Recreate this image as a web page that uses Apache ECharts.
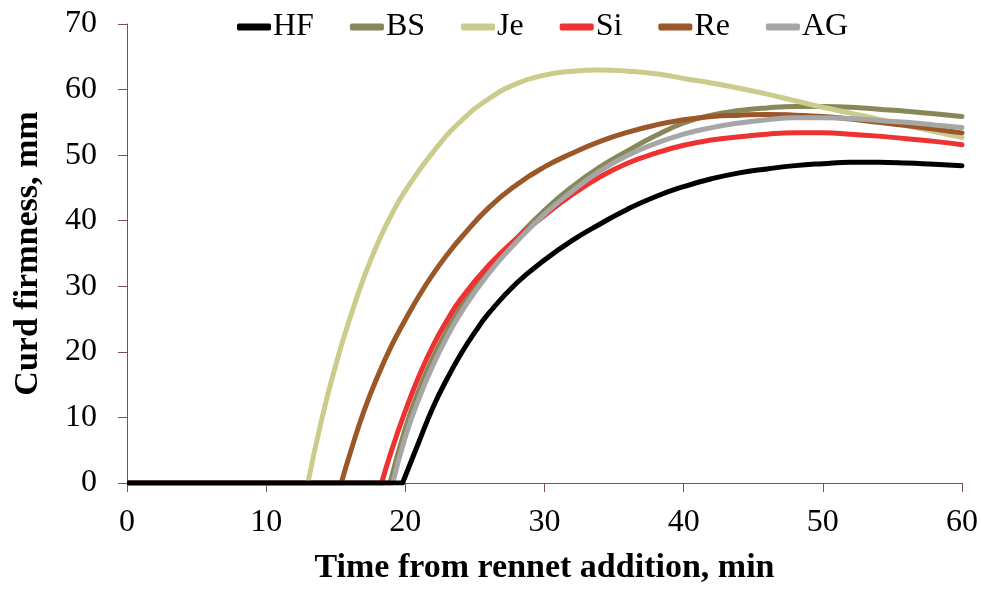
<!DOCTYPE html>
<html><head><meta charset="utf-8">
<script src="https://cdn.jsdelivr.net/npm/echarts@6/dist/echarts.min.js"></script>
<style>html,body{margin:0;padding:0;background:#fff}#c{width:981px;height:592px}</style>
</head><body><div id="c"></div>
<script>
// Data: [time (min), curd firmness (mm)]
const seriesNames = ['HF', 'BS', 'Je', 'Si', 'Re', 'AG'];
const xTicks = [0, 10, 20, 30, 40, 50, 60];
const yTicks = [0, 10, 20, 30, 40, 50, 60, 70];
// Coagulation start time (flat at 0 before)
const startTimes = { HF: 19.8, BS: 18.9, Je: 13.0, Si: 18.3, Re: 15.4, AG: 19.1 };

const hfData = [[19.8,0],[21,6.4],[22,11.6],[23,15.9],[24,19.7],[25,23],[26,25.9],[28,30.5],[30,34],[32,37],[34,39.5],[36,41.8],[38,43.7],[40,45.2],[42,46.4],[44,47.3],[46,47.9],[48,48.4],[50,48.7],[52,48.9],[54,48.9],[56,48.8],[58,48.6],[60,48.4]];
const bsData = [[18.9,0],[20,8.3],[21,14.3],[22,19.2],[23,23.3],[24,26.9],[26,32.6],[28,37.3],[30,41.6],[32,45.2],[34,48.2],[36,50.7],[38,53],[40,54.9],[42,56.1],[44,56.8],[46,57.2],[48,57.4],[50,57.4],[52,57.3],[54,57],[56,56.7],[58,56.3],[60,55.9]];
const jeData = [[13,0],[14,9.8],[15,18],[16,25],[17,31.2],[18,36.5],[19,40.9],[20,44.6],[22,50.5],[24,55.2],[26,58.6],[28,60.9],[30,62.2],[32,62.8],[34,63],[36,62.8],[38,62.4],[40,61.7],[42,61],[44,60.2],[46,59.3],[48,58.3],[50,57.3],[52,56.4],[54,55.5],[56,54.5],[58,53.6],[60,52.7]];
const siData = [[18.3,0],[19,4.9],[20,11],[21,16.4],[22,21],[23,24.8],[24,28.1],[26,33.2],[28,37.3],[30,40.8],[32,44],[34,46.7],[36,48.8],[38,50.3],[40,51.5],[42,52.3],[44,52.8],[46,53.2],[48,53.4],[50,53.4],[52,53.2],[54,52.9],[56,52.5],[58,52.1],[60,51.6]];
const reData = [[15.4,0],[16,4.3],[17,10.8],[18,16.2],[19,20.9],[20,24.9],[21,28.6],[22,31.9],[23,34.8],[24,37.4],[26,42],[28,45.5],[30,48.2],[32,50.3],[34,52.1],[36,53.5],[38,54.6],[40,55.4],[42,55.9],[44,56.1],[46,56.2],[48,56.1],[50,55.9],[52,55.5],[54,55],[56,54.5],[58,54],[60,53.4]];
const agData = [[19.1,0],[20,7],[21,13],[22,18],[23,22.3],[24,26],[26,32],[28,36.8],[30,41],[32,44.5],[34,47.6],[36,50],[38,51.8],[40,53.2],[42,54.2],[44,54.9],[46,55.4],[48,55.7],[50,55.7],[52,55.6],[54,55.3],[56,55],[58,54.6],[60,54.2]];

const curveData = { HF: hfData, BS: bsData, Je: jeData, Si: siData, Re: reData, AG: agData };
const colors = { HF: '#000000', BS: '#87875a', Je: '#cbcb8c', Si: '#ee3131', Re: '#9b5727', AG: '#a6a6a6' };

const FONT = 'Liberation Serif';
const series = [];
seriesNames.forEach(function (n, i) {
  series.push({
    name: n, type: 'line', smooth: false, symbol: 'none', silent: true,
    z: n === 'HF' ? 10 : 2,
    lineStyle: { width: 5, color: colors[n] }, itemStyle: { color: colors[n] },
    data: [[0, 0], [startTimes[n], 0]]
  });
  series.push({
    name: n, type: 'line', smooth: 0.5, symbol: 'none', silent: true,
    z: 3 + i * 0.1,
    lineStyle: { width: 5, color: colors[n], cap: 'round' }, itemStyle: { color: colors[n] },
    data: curveData[n]
  });
});

const axisColor = '#7a5252';
const chart = echarts.init(document.getElementById('c'), null, { renderer: 'canvas' });
chart.setOption({
  animation: false,
  backgroundColor: '#ffffff',
  legend: {
    data: seriesNames, left: 232, top: 6, itemGap: 36, itemWidth: 34, itemHeight: 7,
    icon: 'roundRect',
    textStyle: { fontFamily: FONT, fontSize: 32, color: '#000', padding: [0, 0, 0, -3] }
  },
  grid: { left: 127, right: 17, top: 24, bottom: 109, containLabel: false },
  xAxis: {
    type: 'value', min: xTicks[0], max: xTicks[xTicks.length - 1], interval: 10,
    name: 'Time from rennet addition, min', nameLocation: 'middle', nameGap: 68,
    nameTextStyle: { fontFamily: FONT, fontSize: 34, fontWeight: 'bold', color: '#000' },
    axisLine: { show: true, lineStyle: { color: axisColor, width: 1 } },
    axisTick: { show: true, inside: false, length: 9, lineStyle: { color: axisColor } },
    axisLabel: { fontFamily: FONT, fontSize: 32, color: '#000', margin: 24 },
    splitLine: { show: false }
  },
  yAxis: {
    type: 'value', min: yTicks[0], max: yTicks[yTicks.length - 1], interval: 10,
    name: 'Curd firmness, mm', nameLocation: 'middle', nameGap: 82, nameRotate: 90,
    nameTextStyle: { fontFamily: FONT, fontSize: 34, fontWeight: 'bold', color: '#000' },
    axisLine: { show: true, lineStyle: { color: axisColor, width: 1 } },
    axisTick: { show: true, inside: false, length: 9, lineStyle: { color: axisColor } },
    axisLabel: { fontFamily: FONT, fontSize: 32, color: '#000', margin: 30 },
    splitLine: { show: false }
  },
  series: series
});
</script></body></html>
